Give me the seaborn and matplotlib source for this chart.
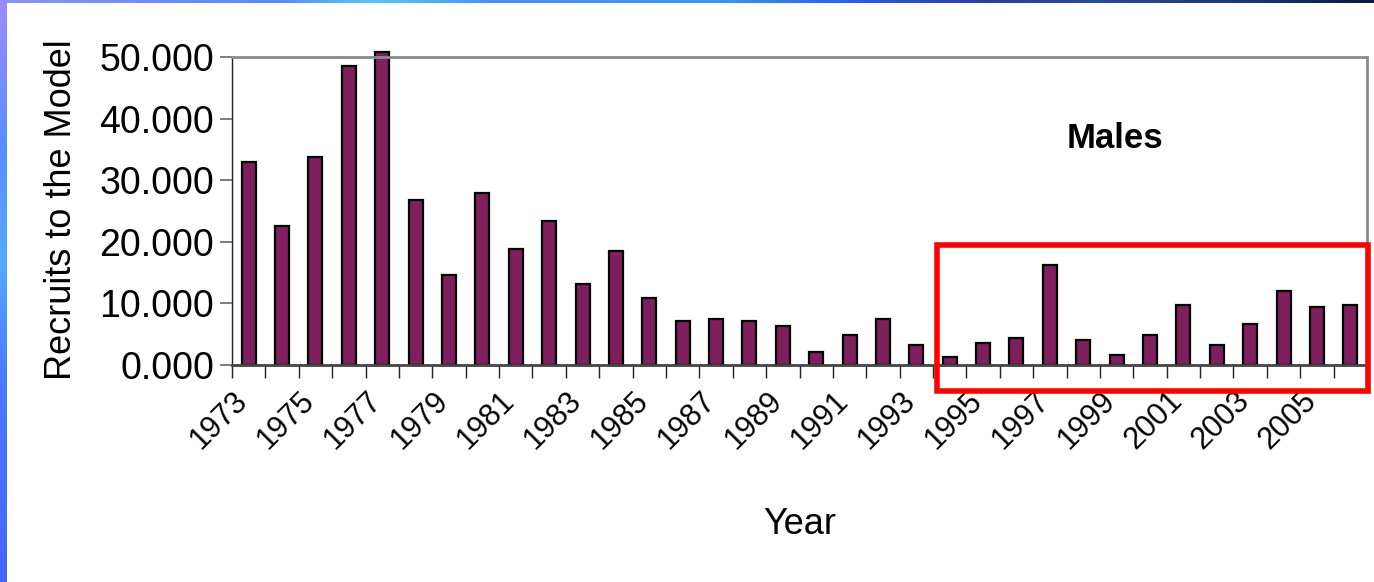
import numpy as np
import pandas as pd
import seaborn as sns
import matplotlib.pyplot as plt
from matplotlib.patches import Rectangle
from matplotlib.colors import LinearSegmentedColormap
from matplotlib.transforms import ScaledTranslation

# recruits to the model, males (thousands)
years = list(range(1973, 2007))
recruits = [32.9, 22.6, 33.7, 48.5, 50.8, 26.8, 14.6, 27.9, 18.8, 23.4,
            13.1, 18.5, 10.9, 7.1, 7.5, 7.1, 6.3, 2.1, 4.8, 7.5,
            3.2, 1.3, 3.6, 4.4, 16.2, 4.0, 1.7, 4.8, 9.7, 3.2,
            6.7, 12.0, 9.4, 9.7]
y_ticks = [0, 10, 20, 30, 40, 50]

df = pd.DataFrame({'Year': [str(y) for y in years], 'Recruits': recruits})

sns.set_theme(style='white')
plt.rcParams['font.family'] = ['Liberation Sans', 'DejaVu Sans']
plt.rcParams.update({'text.color': 'black', 'axes.labelcolor': 'black',
                     'xtick.color': 'black', 'ytick.color': 'black'})

W, H = 1374, 582
fig = plt.figure(figsize=(W / 100, H / 100), dpi=100)
fig.patch.set_facecolor('white')

ax = fig.add_axes([232 / W, 1 - 365 / H, (1367 - 232) / W, (365 - 57) / H])
sns.barplot(data=df, x='Year', y='Recruits', color='#7f1f5e', saturation=1,
            width=0.42, edgecolor='black', linewidth=1.6, ax=ax)
for p in ax.patches:
    p.set_clip_on(False)

ax.set_xlim(-0.5, len(years) - 0.5)
ax.set_ylim(0, 50)
ax.set_yticks(y_ticks)
ax.set_yticklabels([f'{v:.3f}' for v in y_ticks], fontsize=27)
ax.set_xticks(range(len(years)))
ax.set_xticklabels([str(y) if i % 2 == 0 else '' for i, y in enumerate(years)],
                   rotation=45, ha='right', rotation_mode='anchor', fontsize=22)
ax.set_xticks(np.arange(-0.5, len(years), 1), minor=True)
ax.tick_params(axis='x', which='major', length=0, pad=15)
ax.tick_params(axis='x', which='minor', length=9, width=1, color='#222222', direction='out', bottom=True)
ax.tick_params(axis='y', length=9, width=1.2, color='#666666', direction='out', left=True, pad=4)

# nudge the slanted year labels left, like the original
shift = ScaledTranslation(-0.16, 0, fig.dpi_scale_trans)
for tick in ax.xaxis.get_major_ticks():
    tick.label1.set_transform(tick.label1.get_transform() + shift)

ax.set_xlabel('Year', fontsize=26)
ax.xaxis.set_label_coords(0.5, (365 - 525) / 308)
ax.xaxis.label.set_va('center')
ax.set_ylabel('Recruits to the Model', fontsize=26)
ax.yaxis.set_label_coords((62 - 232) / 1135, (365 - 210) / 308)
ax.yaxis.label.set_va('center')

for side in ['top', 'right']:
    ax.spines[side].set_color('#8a8a8a')
    ax.spines[side].set_linewidth(2)
ax.spines['left'].set_color('#222222')
ax.spines['left'].set_linewidth(1)
ax.spines['bottom'].set_color('#444444')
ax.spines['bottom'].set_linewidth(2)

fig.text(1115 / W, 1 - 138 / H, 'Males', fontsize=25, fontweight='bold',
         ha='center', va='center')

# red highlight box around the recent years
fig.patches.append(Rectangle((937 / W, 1 - 391 / H), (1368 - 937) / W, (391 - 245) / H,
                             transform=fig.transFigure, fill=False,
                             edgecolor='#ff0000', linewidth=4, zorder=10))

# slide border gradients
top_cmap = LinearSegmentedColormap.from_list('top', [
    (0.0, '#8a90ff'), (0.2, '#5a88ff'), (0.27, '#55c8ff'), (0.36, '#4a8cff'),
    (0.52, '#3a96ff'), (0.62, '#2a5aff'), (0.72, '#2c3aa8'), (0.8, '#2a4a9a'),
    (0.9, '#1a3a7a'), (1.0, '#0a1a40')])
tax = fig.add_axes([0, 1 - 3 / H, 1, 3 / H])
tax.imshow(np.linspace(0, 1, 256)[None, :], aspect='auto', cmap=top_cmap)
tax.axis('off')

left_cmap = LinearSegmentedColormap.from_list('left', [
    (0.0, '#9a8cff'), (0.25, '#5a8cff'), (0.45, '#55aaff'), (0.65, '#4a7aff'),
    (1.0, '#4466ff')])
lax = fig.add_axes([0, 0, 7 / W, 1])
lax.imshow(np.linspace(0, 1, 256)[:, None], aspect='auto', cmap=left_cmap)
lax.axis('off')

fig.savefig('out.png', dpi=100, facecolor='white')
